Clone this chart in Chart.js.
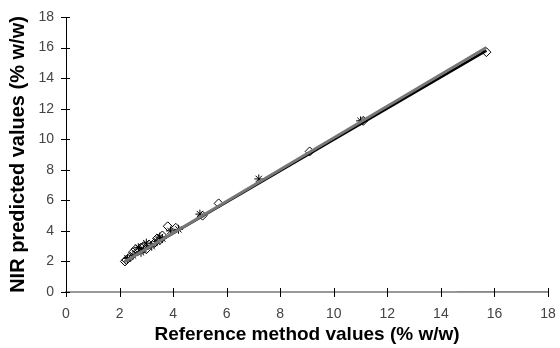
<!DOCTYPE html>
<html>
<head>
<meta charset="utf-8">
<script src="https://cdn.jsdelivr.net/npm/chart.js@4/dist/chart.umd.min.js"></script>
<style>
  html, body { margin: 0; padding: 0; background: #fff; }
  #wrap { width: 560px; height: 348px; }
</style>
</head>
<body>
<div id="wrap"><canvas id="nir" width="560" height="348"></canvas></div>
<script>
/* Data */
var calX = [2.2, 2.25, 2.4, 2.5, 2.6, 2.7, 2.8, 2.9, 3.0, 3.1, 3.3, 3.4, 3.5, 3.6, 3.8, 4.1, 5.1, 5.7, 9.1, 11.1, 15.7];
var calY = [2.0, 2.1, 2.3, 2.6, 2.8, 2.7, 2.9, 3.0, 2.8, 3.1, 3.2, 3.5, 3.4, 3.7, 4.3, 4.2, 5.0, 5.8, 9.2, 11.2, 15.7];
var valX = [2.3, 2.5, 2.7, 2.8, 2.9, 3.0, 3.2, 3.4, 3.5, 3.6, 3.9, 4.2, 5.0, 7.2, 11.0];
var valY = [2.2, 2.4, 2.9, 2.6, 2.8, 3.2, 3.0, 3.3, 3.6, 3.5, 4.0, 4.1, 5.1, 7.4, 11.2];
var fitX = [2.2, 15.7];
var fitY = [2.0, 15.8];
var idealX = [2.2, 15.7];
var idealY = [2.0, 16.0];
var baseX = [14.6, 18];
var baseY = [0, 0];
var tickVals = [0, 2, 4, 6, 8, 10, 12, 14, 16, 18];

function pts(xs, ys) {
    var out = [];
    for (var i = 0; i < xs.length; i++) out.push({x: xs[i], y: ys[i]});
    return out;
}

/* Excel-like ticks crossing the axes */
var crossTicks = {
    id: 'crossTicks',
    afterDraw: function (chart) {
        var c = chart.ctx, xs = chart.scales.x, ys = chart.scales.y;
        var y0 = ys.getPixelForValue(0), x0 = xs.getPixelForValue(0);
        c.save();
        c.lineWidth = 1;
        c.strokeStyle = '#000';
        tickVals.forEach(function (v) {
            var px = Math.round(xs.getPixelForValue(v)) + 0.5;
            c.beginPath(); c.moveTo(px, y0 - 4); c.lineTo(px, y0 + 5); c.stroke();
            var py = Math.round(ys.getPixelForValue(v)) + 0.5;
            c.beginPath(); c.moveTo(x0 - 5, py); c.lineTo(x0 + 4, py); c.stroke();
        });
        c.restore();
    }
};

var ctxNir = document.getElementById('nir');
var chartNir = new Chart(ctxNir, {
    type: 'scatter',
    data: {
        datasets: [
            {
                label: 'ideal',
                type: 'line',
                data: pts(idealX, idealY),
                borderColor: '#777',
                borderWidth: 3,
                pointRadius: 0,
                showLine: true
            },
            {
                label: 'fit',
                type: 'line',
                data: pts(fitX, fitY),
                borderColor: '#000',
                borderWidth: 2.5,
                pointRadius: 0,
                showLine: true
            },
            {
                label: 'base',
                type: 'line',
                data: pts(baseX, baseY),
                borderColor: '#888',
                borderWidth: 2,
                pointRadius: 0,
                showLine: true
            },
            {
                label: 'calibration',
                data: pts(calX, calY),
                pointStyle: 'rectRot',
                pointRadius: 4.5,
                backgroundColor: 'rgba(255,255,255,0)',
                borderColor: '#000',
                borderWidth: 1
            },
            {
                label: 'validation',
                data: pts(valX, valY),
                pointStyle: 'star',
                pointRadius: 4.5,
                borderColor: '#000',
                borderWidth: 1
            }
        ]
    },
    options: {
        responsive: false,
        maintainAspectRatio: false,
        animation: false,
        layout: { padding: { left: 0, right: 12, top: 17, bottom: 0 } },
        plugins: {
            legend: { display: false },
            tooltip: { enabled: false }
        },
        scales: {
            x: {
                type: 'linear',
                min: 0, max: 18,
                grid: { display: false, drawTicks: false },
                border: { display: true, color: '#999', width: 2 },
                afterFit: function (s) { s.height = 56; s.paddingLeft = 0; s.paddingRight = 0; },
                ticks: {
                    stepSize: 2,
                    padding: 14,
                    color: '#444',
                    font: { family: 'Liberation Sans, Arial', size: 14 }
                },
                title: {
                    display: true,
                    text: 'Reference method values (% w/w)',
                    color: '#000',
                    padding: { top: 0, bottom: 2 },
                    font: { family: 'Liberation Sans, Arial', size: 19, weight: 'bold' }
                }
            },
            y: {
                type: 'linear',
                min: 0, max: 18,
                grid: { display: false, drawTicks: false },
                border: { display: true, color: '#000', width: 1 },
                afterFit: function (s) { s.width = 66; s.paddingTop = 0; s.paddingBottom = 0; },
                ticks: {
                    stepSize: 2,
                    padding: 12,
                    color: '#444',
                    font: { family: 'Liberation Sans, Arial', size: 14 }
                },
                title: {
                    display: true,
                    text: 'NIR predicted values (% w/w)',
                    color: '#000',
                    padding: { top: 6, bottom: 0 },
                    font: { family: 'Liberation Sans, Arial', size: 20, weight: 'bold' }
                }
            }
        }
    },
    plugins: [crossTicks]
});
</script>
</body>
</html>
